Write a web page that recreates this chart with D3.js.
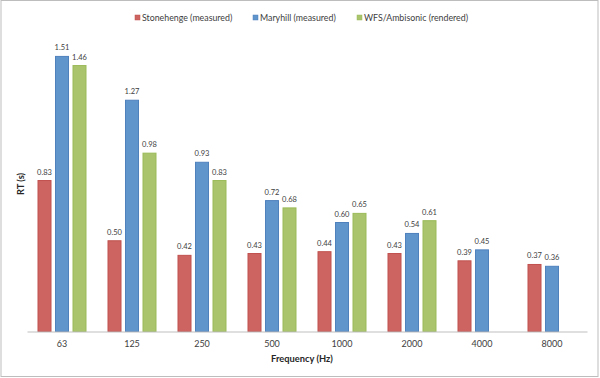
<!DOCTYPE html>
<html>
<head>
<meta charset="utf-8">
<script src="https://cdn.jsdelivr.net/npm/d3@7"></script>
<style>
body{margin:0;background:#fff;}
svg{display:block;}
text{font-family:Lato, "Open Sans", sans-serif;}
</style>
</head>
<body>
<svg id="chart" width="600" height="378"></svg>
<script>
const categories = ["63","125","250","500","1000","2000","4000","8000"];
const seriesNames = ["Stonehenge (measured)","Maryhill (measured)","WFS/Ambisonic (rendered)"];
const stonehenge = [0.83,0.50,0.42,0.43,0.44,0.43,0.39,0.37];
const maryhill   = [1.51,1.27,0.93,0.72,0.60,0.54,0.45,0.36];
const wfs        = [1.46,0.98,0.83,0.68,0.65,0.61,null,null];
const fills   = ["#cd6461","#5f95cb","#a9c46c"];
const strokes = ["#c0504d","#4f81bd","#9bbb59"];

const series = [stonehenge, maryhill, wfs];
const svg = d3.select("#chart");

svg.append("rect").attr("x",1).attr("y",0.5).attr("width",597).attr("height",376)
  .attr("fill","#fff").attr("stroke","#bdbdbd").attr("stroke-width",1);

const x = d3.scaleBand().domain(categories).range([27,587]).paddingInner(0).paddingOuter(0);
const y = d3.scaleLinear().domain([0,1.6]).range([331.5,39.5]);
const barW = 14, step = 17.5;
const offset0 = (x.bandwidth() - (barW + 2*step))/2;

series.forEach((vals,si)=>{
  const data = categories.map((c,i)=>({c, v: vals[i]})).filter(d=>d.v!=null);
  const g = svg.append("g");
  g.selectAll("rect").data(data).enter().append("rect")
    .attr("x", d=> x(d.c)+offset0+si*step + 0.5)
    .attr("y", d=> y(d.v)+0.5)
    .attr("width", barW-1)
    .attr("height", d=> y(0)-y(d.v)-0.5)
    .attr("fill", fills[si]).attr("stroke", strokes[si]).attr("stroke-width",1);
  g.selectAll("text").data(data).enter().append("text")
    .attr("x", d=> x(d.c)+offset0+si*step + barW/2)
    .attr("y", d=> y(d.v)-5.5)
    .attr("text-anchor","middle")
    .attr("font-size",7.5)
    .attr("fill","#404040")
    .text(d=> d.v.toFixed(2));
});

// x axis
const xAxis = d3.axisBottom(x).tickSize(0).tickPadding(9);
const ax = svg.append("g").attr("transform",`translate(0,${y(0)})`).call(xAxis);
ax.select(".domain").attr("stroke","#bfbfbf").attr("stroke-width",1);
ax.selectAll("text").attr("font-size",9).attr("fill","#404040").attr("font-family","Lato, 'Open Sans', sans-serif");

svg.append("text").attr("x",302).attr("y",362).attr("text-anchor","middle")
  .attr("font-size",9.3).attr("font-weight","bold").attr("fill","#262626").text("Frequency (Hz)");
svg.append("text").attr("transform","translate(24,184) rotate(-90)").attr("text-anchor","middle")
  .attr("font-size",9.3).attr("font-weight","bold").attr("fill","#262626").text("RT (s)");

// legend
const legX = [135,253,357];
seriesNames.forEach((n,i)=>{
  svg.append("rect").attr("x",legX[i]).attr("y",15).attr("width",5).attr("height",5)
    .attr("fill",fills[i]).attr("stroke",strokes[i]).attr("stroke-width",0.5);
  svg.append("text").attr("x",legX[i]+7).attr("y",20.5).attr("font-size",8.8)
    .attr("fill","#404040").text(n);
});
</script>
</body>
</html>
